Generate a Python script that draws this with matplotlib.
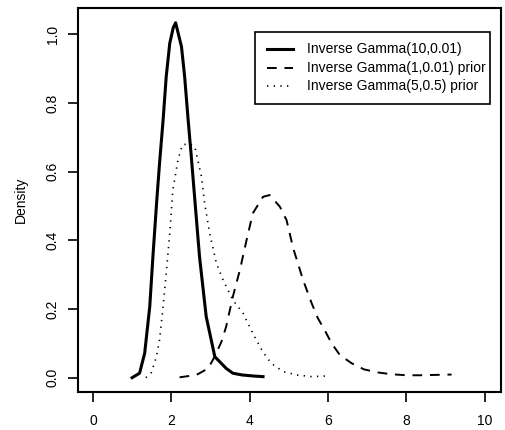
import numpy as np
import matplotlib.pyplot as plt
from matplotlib.patches import Rectangle
from matplotlib.lines import Line2D

plt.rcParams['font.family'] = ['Liberation Sans', 'DejaVu Sans']

# posterior density, Inverse Gamma(10,0.01)
post_x = [1.00, 1.19, 1.32, 1.45, 1.53, 1.63, 1.70, 1.79, 1.87, 1.96, 2.05, 2.11,
          2.26, 2.34, 2.43, 2.51, 2.60, 2.72, 2.89, 3.11, 3.23, 3.40, 3.57, 3.80, 4.08, 4.34]
post_y = [0.000, 0.013, 0.071, 0.207, 0.352, 0.518, 0.625, 0.750, 0.877, 0.974, 1.020, 1.034,
          0.964, 0.877, 0.750, 0.644, 0.518, 0.352, 0.178, 0.061, 0.047, 0.027, 0.013, 0.008, 0.005, 0.003]

# Inverse Gamma(1,0.01) prior
p1_x = [2.21, 2.64, 2.94, 3.10, 3.28, 3.40, 3.57, 3.75, 3.92, 4.08, 4.34, 4.51,
        4.77, 4.94, 5.11, 5.23, 5.36, 5.58, 5.74, 5.91, 6.09, 6.30, 6.60, 6.92,
        7.28, 7.62, 8.00, 8.34, 8.72, 9.06, 9.15]
p1_y = [0.001, 0.008, 0.027, 0.060, 0.105, 0.149, 0.236, 0.314, 0.401, 0.479, 0.527, 0.532,
        0.498, 0.459, 0.377, 0.333, 0.285, 0.217, 0.173, 0.139, 0.100, 0.066, 0.042, 0.024,
        0.015, 0.010, 0.007, 0.007, 0.008, 0.009, 0.009]

# Inverse Gamma(5,0.5) prior
p2_x = [1.35, 1.49, 1.62, 1.70, 1.79, 1.87, 1.96, 2.04, 2.17, 2.28, 2.45, 2.60,
        2.77, 2.85, 2.98, 3.15, 3.32, 3.57, 3.83, 4.08, 4.34, 4.55, 4.85, 5.19,
        5.58, 5.96]
p2_y = [0.000, 0.015, 0.061, 0.110, 0.207, 0.304, 0.420, 0.547, 0.634, 0.678, 0.682, 0.673,
        0.585, 0.508, 0.420, 0.333, 0.285, 0.226, 0.188, 0.129, 0.074, 0.042, 0.018, 0.008,
        0.003, 0.005]

labels = ["Inverse Gamma(10,0.01)", "Inverse Gamma(1,0.01) prior", "Inverse Gamma(5,0.5) prior"]

fig = plt.figure(figsize=(5.05, 4.3), dpi=100)
ax = fig.add_axes([0.1545, 0.0884, 0.8375, 0.893])

styles = [dict(lw=2.2), dict(lw=1.4, dashes=(5, 4)), dict(lw=1.2, dashes=(0.8, 3.2))]
ax.plot(post_x, post_y, color='black', **styles[0])
ax.plot(p1_x, p1_y, color='black', **styles[1])
ax.plot(p2_x, p2_y, color='black', **styles[2])

ax.set_xlim(-0.38, 10.41)
ax.set_ylim(-0.0417, 1.077)
ax.set_xticks([0, 2, 4, 6, 8, 10])
ax.set_yticks([0.0, 0.2, 0.4, 0.6, 0.8, 1.0])
ax.set_yticklabels(["0.0", "0.2", "0.4", "0.6", "0.8", "1.0"], rotation=90, va='center')
ax.tick_params(direction='out', length=7, width=1.2, labelsize=10)
ax.tick_params(axis='x', pad=9)
ax.tick_params(axis='y', pad=6)
for s in ax.spines.values():
    s.set_linewidth(1.5)
ax.set_ylabel("Density", fontsize=10, labelpad=13)

# legend box drawn by hand so the text runs up to the right edge
ax.add_patch(Rectangle((0.418, 0.75), 0.556, 0.187, transform=ax.transAxes,
                       facecolor='white', edgecolor='black', lw=1.2, zorder=5))
for i, (lab, st) in enumerate(zip(labels, styles)):
    yy = 0.892 - i * 0.0475
    ax.add_line(Line2D([0.447, 0.508], [yy, yy], transform=ax.transAxes,
                       color='black', zorder=6, **st))
    ax.text(0.541, yy, lab, transform=ax.transAxes, fontsize=10,
            va='center', ha='left', zorder=6)

fig.savefig("out.png", dpi=100)
